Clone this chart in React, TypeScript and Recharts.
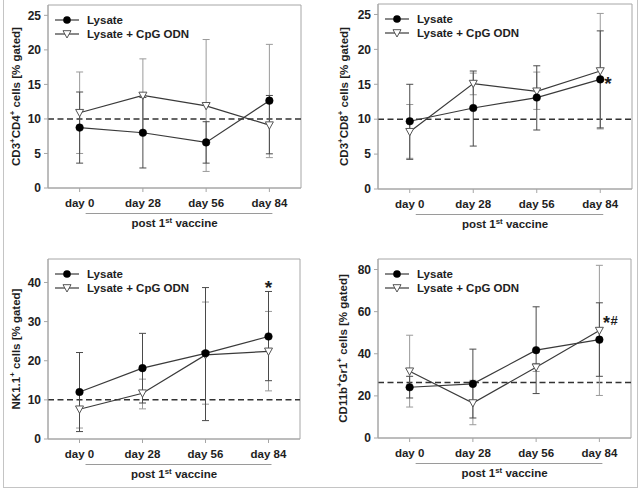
import React from "react";
import {
  LineChart,
  Line,
  XAxis,
  YAxis,
  ErrorBar,
  ReferenceLine,
  ReferenceArea,
  ReferenceDot,
  Legend,
} from "recharts";

const FONT = "Arial, 'Liberation Sans', Helvetica, sans-serif";
const INK = "#1e1e1e";
const FRAME = "#a6a6a6";

const days = [0, 28, 56, 84];
const dayLabels = ["day 0", "day 28", "day 56", "day 84"];
const seriesNames = ["Lysate", "Lysate + CpG ODN"];

// CD3+CD4+
const cd4Lysate = [8.75, 8.0, 6.6, 12.65];
const cd4LysateLow = [3.6, 2.9, 3.6, 4.95];
const cd4LysateHigh = [13.9, 13.1, 9.6, 13.4];
const cd4Cpg = [10.9, 13.4, 11.9, 9.1];
const cd4CpgLow = [5.0, 8.1, 2.4, 4.4];
const cd4CpgHigh = [16.8, 18.7, 21.5, 20.8];

// CD3+CD8+
const cd8Lysate = [9.7, 11.6, 13.1, 15.7];
const cd8LysateLow = [4.25, 6.15, 8.45, 8.75];
const cd8LysateHigh = [15.0, 16.9, 17.65, 22.65];
const cd8Cpg = [8.2, 15.1, 14.0, 16.9];
const cd8CpgLow = [4.4, 13.5, 11.4, 8.6];
const cd8CpgHigh = [12.1, 16.6, 16.75, 25.15];

// NK1.1+
const nkLysate = [12.0, 18.1, 21.9, 26.2];
const nkLysateLow = [1.9, 9.2, 4.7, 14.9];
const nkLysateHigh = [22.1, 27.0, 38.7, 37.7];
const nkCpg = [7.6, 11.7, 21.5, 22.4];
const nkCpgLow = [2.8, 7.7, 8.9, 12.3];
const nkCpgHigh = [12.4, 15.3, 35.0, 32.6];

// CD11b+Gr1+
const mdscLysate = [24.1, 25.7, 41.7, 46.7];
const mdscLysateLow = [19.0, 9.5, 21.1, 29.3];
const mdscLysateHigh = [29.3, 42.2, 62.3, 64.2];
const mdscCpg = [31.7, 16.6, 33.6, 51.0];
const mdscCpgLow = [14.7, 6.3, 31.6, 20.2];
const mdscCpgHigh = [48.8, 27.4, 35.4, 82.0];

function buildRows(lys: number[], lysLo: number[], lysHi: number[], cpg: number[], cpgLo: number[], cpgHi: number[]) {
  return days.map((day, i) => ({
    day,
    lysate: lys[i],
    lysateErr: [lys[i] - lysLo[i], lysHi[i] - lys[i]],
    cpg: cpg[i],
    cpgErr: [cpg[i] - cpgLo[i], cpgHi[i] - cpg[i]],
  }));
}

// text with superscript pieces: [text, isSup]
function richText(parts: [string, boolean][], size: number) {
  let prevSup = false;
  return parts.map(([t, sup], i) => {
    const dy = sup === prevSup ? 0 : sup ? -size * 0.38 : size * 0.38;
    prevSup = sup;
    return (
      <tspan key={i} dy={dy} fontSize={sup ? size * 0.68 : size}>
        {t}
      </tspan>
    );
  });
}

const TriangleDot = (props: any) => {
  const { cx, cy } = props;
  if (cx == null || cy == null) return <g />;
  return (
    <path
      d={`M${cx - 4},${cy - 3.3} L${cx + 4},${cy - 3.3} L${cx},${cy + 4} Z`}
      fill="#fff"
      stroke="#555"
      strokeWidth={1}
    />
  );
};

const LegendBox = ({ payload }: any) => (
  <svg width={180} height={30} style={{ display: "block" }}>
    {(payload ?? []).map((entry: any, i: number) => {
      const y = 7 + i * 14;
      return (
        <g key={i}>
          <line x1={0} x2={24} y1={y} y2={y} stroke="#3a3a3a" strokeWidth={1.2} />
          {i === 0 ? (
            <circle cx={12} cy={y} r={3.8} fill="#000" />
          ) : (
            <TriangleDot cx={12} cy={y} />
          )}
          <text x={32} y={y + 4} fontSize={11.5} fontWeight="bold" fill={INK} fontFamily={FONT}>
            {entry.value}
          </text>
        </g>
      );
    })}
  </svg>
);

const postLabel = (props: any) => {
  const { x, y, width } = props.viewBox;
  const unit = width / 112;
  return (
    <g>
      <line x1={x + 14 * unit + 6} x2={x + 98 * unit + 3} y1={y + 25.5} y2={y + 25.5} stroke="#9a9a9a" strokeWidth={1} />
      <text x={x + width / 2} y={y + 39} textAnchor="middle" fontWeight="bold" fill={INK} fontFamily={FONT}>
        {richText([["post 1", false], ["st", true], [" vaccine", false]], 11.5)}
      </text>
    </g>
  );
};

type Mark = { x: number; y: number; glyphs: { t: string; dx: number; dy: number; size: number; anchor?: string }[] };

type PanelProps = {
  rows: any[];
  yMax: number;
  yTicks: number[];
  baseline: number;
  yLabel: [string, boolean][];
  labelX: number;
  plot: { left: number; right: number; top: number; bottom: number };
  marks: Mark[];
};

const W = 320;
const H = 245;
const XAXIS_H = 40;

function Panel({ rows, yMax, yTicks, baseline, yLabel, labelX, plot, marks }: PanelProps) {
  const yLabelContent = (props: any) => {
    const { y, height } = props.viewBox;
    const cy = y + height / 2;
    return (
      <text
        transform={`translate(${labelX}, ${cy}) rotate(-90)`}
        textAnchor="middle"
        dominantBaseline="central"
        fontWeight="bold"
        fill={INK}
        fontFamily={FONT}
      >
        {richText(yLabel, 11.5)}
      </text>
    );
  };

  return (
    <LineChart
      width={W}
      height={H}
      data={rows}
      margin={{ top: plot.top, right: W - plot.right, bottom: H - plot.bottom - XAXIS_H, left: 0 }}
    >
      <XAxis
        type="number"
        dataKey="day"
        domain={[-14, 98]}
        ticks={days}
        tickFormatter={(v) => dayLabels[days.indexOf(v)]}
        height={XAXIS_H}
        tickSize={4}
        tickMargin={7}
        stroke={FRAME}
        tick={{ fill: INK, fontSize: 11.5, fontWeight: "bold", fontFamily: FONT }}
        label={postLabel}
      />
      <YAxis
        type="number"
        domain={[0, yMax]}
        ticks={yTicks}
        width={plot.left}
        tickSize={4}
        tickMargin={3}
        stroke={FRAME}
        tick={{ fill: INK, fontSize: 12, fontWeight: "bold", fontFamily: FONT }}
        label={yLabelContent}
      />
      <ReferenceArea x1={-14} x2={98} y1={0} y2={yMax} fill="none" stroke={FRAME} strokeWidth={1} ifOverflow="visible" />
      <ReferenceLine y={baseline} stroke="#333" strokeDasharray="6 3.5" strokeWidth={1.5} />
      <Legend
        layout="horizontal"
        verticalAlign="middle"
        align="center"
        content={<LegendBox />}
        wrapperStyle={{ left: plot.left + 7, top: plot.top + 8, width: 180, height: 30 }}
      />
      <Line
        name={seriesNames[1]}
        dataKey="cpg"
        stroke="#3a3a3a"
        strokeWidth={1.2}
        dot={<TriangleDot />}
        activeDot={false}
        isAnimationActive={false}
        legendType="triangle"
      >
        <ErrorBar dataKey="cpgErr" direction="y" width={3.5} stroke="#9a9a9a" strokeWidth={1} />
      </Line>
      <Line
        name={seriesNames[0]}
        dataKey="lysate"
        stroke="#3a3a3a"
        strokeWidth={1.2}
        dot={{ r: 3.8, fill: "#000", stroke: "#000", strokeWidth: 0.5 }}
        activeDot={false}
        isAnimationActive={false}
      >
        <ErrorBar dataKey="lysateErr" direction="y" width={3.5} stroke="#4a4a4a" strokeWidth={1} />
      </Line>
      {marks.map((m, i) => (
        <ReferenceDot
          key={i}
          x={m.x}
          y={m.y}
          r={0}
          fill="none"
          stroke="none"
          ifOverflow="visible"
          label={(props: any) => (
            <g>
              {m.glyphs.map((g, j) => (
                <text
                  key={j}
                  x={props.viewBox.x + g.dx}
                  y={props.viewBox.y + g.dy}
                  textAnchor={g.anchor ?? "start"}
                  fontSize={g.size}
                  fontWeight="bold"
                  fill={INK}
                  fontFamily={FONT}
                >
                  {g.t}
                </text>
              ))}
            </g>
          )}
        />
      ))}
    </LineChart>
  );
}

const panels = [
  {
    key: "cd4",
    left: 0,
    top: 0,
    rows: buildRows(cd4Lysate, cd4LysateLow, cd4LysateHigh, cd4Cpg, cd4CpgLow, cd4CpgHigh),
    yMax: 26.5,
    yTicks: [0, 5, 10, 15, 20, 25],
    baseline: 10,
    yLabel: [["CD3", false], ["+", true], ["CD4", false], ["+", true], [" cells [% gated]", false]] as [string, boolean][],
    labelX: 16,
    plot: { left: 48, right: 301, top: 5, bottom: 188 },
    marks: [] as Mark[],
  },
  {
    key: "cd8",
    left: 320,
    top: 0,
    rows: buildRows(cd8Lysate, cd8LysateLow, cd8LysateHigh, cd8Cpg, cd8CpgLow, cd8CpgHigh),
    yMax: 26.5,
    yTicks: [0, 5, 10, 15, 20, 25],
    baseline: 10,
    yLabel: [["CD3", false], ["+", true], ["CD8", false], ["+", true], [" cells [% gated]", false]] as [string, boolean][],
    labelX: 24,
    plot: { left: 58, right: 312, top: 4, bottom: 189 },
    marks: [{ x: 84, y: 15.7, glyphs: [{ t: "*", dx: 4, dy: 10.5, size: 19 }] }],
  },
  {
    key: "nk",
    left: 0,
    top: 245,
    rows: buildRows(nkLysate, nkLysateLow, nkLysateHigh, nkCpg, nkCpgLow, nkCpgHigh),
    yMax: 46,
    yTicks: [0, 10, 20, 30, 40],
    baseline: 10,
    yLabel: [["NK1.1", false], ["+", true], [" cells [% gated]", false]] as [string, boolean][],
    labelX: 16,
    plot: { left: 48, right: 300, top: 14, bottom: 194 },
    marks: [{ x: 84, y: 39.9, glyphs: [{ t: "*", dx: 0, dy: 11, size: 19, anchor: "middle" }] }],
  },
  {
    key: "mdsc",
    left: 320,
    top: 245,
    rows: buildRows(mdscLysate, mdscLysateLow, mdscLysateHigh, mdscCpg, mdscCpgLow, mdscCpgHigh),
    yMax: 85,
    yTicks: [0, 20, 40, 60, 80],
    baseline: 26.4,
    yLabel: [["CD11b", false], ["+", true], ["Gr1", false], ["+", true], [" cells [% gated]", false]] as [string, boolean][],
    labelX: 23,
    plot: { left: 58, right: 311, top: 14, bottom: 193 },
    marks: [
      {
        x: 84,
        y: 51.0,
        glyphs: [
          { t: "*", dx: 3.5, dy: -1.5, size: 18 },
          { t: "#", dx: 11, dy: -5.5, size: 13 },
        ],
      },
    ],
  },
];

export default function App() {
  return (
    <div style={{ position: "absolute", left: 0, top: 0, width: 641, height: 490, background: "#fff", fontFamily: FONT }}>
      <div
        style={{
          position: "absolute",
          left: 3,
          top: -1,
          width: 633,
          height: 487,
          border: "1px solid #c4c4c4",
        }}
      />
      {panels.map((p) => (
        <div key={p.key} style={{ position: "absolute", left: p.left, top: p.top }}>
          <Panel
            rows={p.rows}
            yMax={p.yMax}
            yTicks={p.yTicks}
            baseline={p.baseline}
            yLabel={p.yLabel}
            labelX={p.labelX}
            plot={p.plot}
            marks={p.marks}
          />
        </div>
      ))}
    </div>
  );
}
